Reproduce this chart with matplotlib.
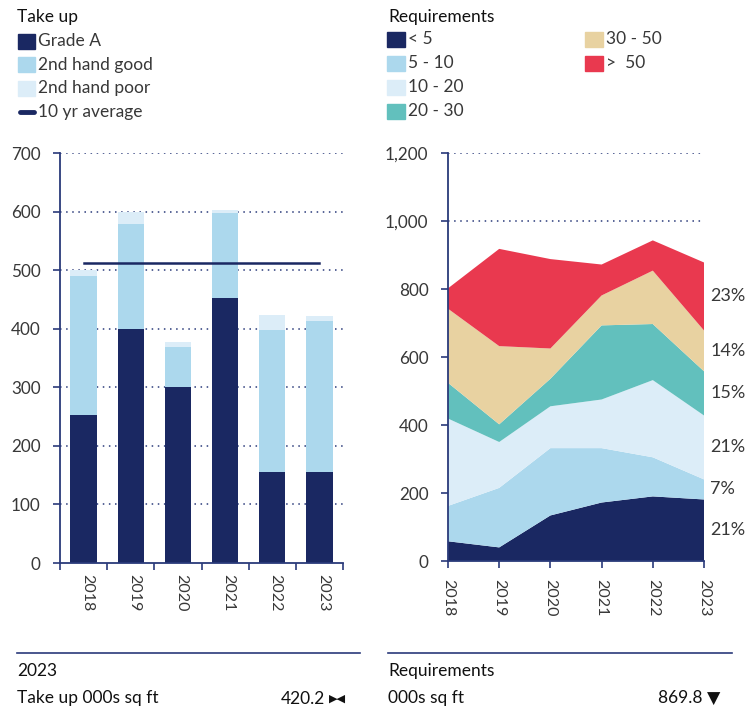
import matplotlib.pyplot as plt
from matplotlib.patches import Rectangle
from matplotlib.lines import Line2D
import numpy as np

# colours
NAVY = '#1a2862'
LIGHT_BLUE = '#acd8ed'
PALE_BLUE = '#dcedf8'
TEAL = '#62c0bd'
BEIGE = '#e8d2a1'
RED = '#e9394f'
TEXT = '#383838'
GRID = '#2a3a7a'

# take up data (000s sq ft)
years = ['2018', '2019', '2020', '2021', '2022', '2023']
grade_a = [253, 400, 300, 453, 155, 155]
second_good = [237, 178, 68, 145, 243, 258]
second_poor = [10, 22, 10, 4, 26, 8]
ten_yr_average = 512

# requirements data by size band (000s sq ft)
req_labels = ['< 5', '5 - 10', '10 - 20', '20 - 30', '30 - 50', '>  50']
req_lt5 = [58, 40, 134, 172, 190, 181]
req_5_10 = [104, 175, 198, 160, 115, 59]
req_10_20 = [257, 135, 123, 143, 227, 188]
req_20_30 = [105, 52, 81, 218, 165, 130]
req_30_50 = [218, 230, 89, 88, 157, 120]
req_gt50 = [60, 286, 263, 91, 89, 200]
req_share = ['21%', '7%', '21%', '15%', '14%', '23%']

W, H = 747, 709
plt.rcParams['font.family'] = ['Lato', 'DejaVu Sans']

fig = plt.figure(figsize=(W / 100, H / 100), dpi=100)


def fx(px):
    return px / W


def fy(py):
    return 1 - py / H


def style_axis(ax):
    for side in ['top', 'right']:
        ax.spines[side].set_visible(False)
    for side in ['left', 'bottom']:
        ax.spines[side].set_color(GRID)
        ax.spines[side].set_linewidth(1.3)
    ax.tick_params(axis='y', direction='out', length=5, width=1.2, color=GRID,
                   labelsize=12.3, labelcolor=TEXT, pad=9)
    ax.tick_params(axis='x', which='both', direction='out', width=1.2, color=GRID,
                   labelsize=11.5, labelcolor=TEXT)


# ---- left: take up bars
ax1 = fig.add_axes([fx(60), fy(563), fx(343) - fx(60), fy(153) - fy(563)])
x = np.arange(len(years))
for v in range(100, 701, 100):
    ax1.axhline(v, color=GRID, lw=1.1, ls=(0, (1, 3)), zorder=0)
bottom2 = np.array(grade_a)
bottom3 = bottom2 + np.array(second_good)
ax1.bar(x, grade_a, width=0.56, color=NAVY, zorder=2)
ax1.bar(x, second_good, width=0.56, bottom=bottom2, color=LIGHT_BLUE, zorder=2)
ax1.bar(x, second_poor, width=0.56, bottom=bottom3, color=PALE_BLUE, zorder=2)
ax1.plot([x[0], x[-1]], [ten_yr_average] * 2, color=NAVY, lw=1.8, zorder=3)
ax1.set_xlim(-0.5, 5.5)
ax1.set_ylim(0, 700)
ax1.set_yticks(range(0, 701, 100))
ax1.set_xticks(np.arange(-0.5, 6, 1))
ax1.set_xticklabels([])
ax1.set_xticks(x + 0.07, minor=True)
ax1.set_xticklabels(years, minor=True, rotation=270)
ax1.tick_params(axis='x', which='major', length=5)
ax1.tick_params(axis='x', which='minor', length=0, pad=8)
style_axis(ax1)

# ---- right: requirements stacked area
ax2 = fig.add_axes([fx(448), fy(561), fx(704) - fx(448), fy(153) - fy(561)])
for v in [1000, 1200]:
    ax2.plot([0, 4.95], [v, v], color=GRID, lw=1.1, ls=(0, (1, 3)), zorder=0)
layers = [req_lt5, req_5_10, req_10_20, req_20_30, req_30_50, req_gt50]
layer_colors = [NAVY, LIGHT_BLUE, PALE_BLUE, TEAL, BEIGE, RED]
ax2.stackplot(x, layers, colors=layer_colors, zorder=2, lw=0)
ax2.set_xlim(0, 5)
ax2.set_ylim(0, 1200)
ax2.set_yticks(range(0, 1201, 200))
ax2.set_yticklabels([f'{v:,}' for v in range(0, 1201, 200)])
ax2.set_xticks(x)
ax2.set_xticklabels(years, rotation=270)
ax2.tick_params(axis='x', length=5, pad=8)
style_axis(ax2)

tops = np.cumsum(np.array(layers), axis=0)[:, -1]
bots = tops - np.array(layers)[:, -1]
for lab, lo, hi in zip(req_share, bots, tops):
    ax2.text(5.12, (lo + hi) / 2, lab, fontsize=13, color=TEXT, va='center',
             ha='left', clip_on=False)

# ---- legends
fig.text(fx(17), fy(17), 'Take up', fontsize=12.5, color='#111111', va='center')
take_items = [('Grade A', NAVY, 'box'), ('2nd hand good', LIGHT_BLUE, 'box'),
              ('2nd hand poor', PALE_BLUE, 'box'), ('10 yr average', NAVY, 'line')]
for i, (lab, col, kind) in enumerate(take_items):
    yc = 41 + i * 23.7
    if kind == 'box':
        fig.patches.append(Rectangle((fx(18), fy(yc + 7.5)), fx(17), fy(0) - fy(15),
                                     transform=fig.transFigure, color=col))
    else:
        fig.lines.append(Line2D([fx(19.5), fx(33.5)], [fy(yc), fy(yc)], color=col, lw=3.5,
                                solid_capstyle='round', transform=fig.transFigure))
    fig.text(fx(38), fy(yc), lab, fontsize=12.5, color=TEXT, va='center')

fig.text(fx(388), fy(17), 'Requirements', fontsize=12.5, color='#111111', va='center')
for i, (lab, col) in enumerate(zip(req_labels, layer_colors)):
    col_x = 387 if i < 4 else 585
    yc = 39 + (i % 4) * 24
    fig.patches.append(Rectangle((fx(col_x), fy(yc + 7.5)), fx(18), fy(0) - fy(15),
                                 transform=fig.transFigure, color=col))
    fig.text(fx(col_x + 21), fy(yc), lab, fontsize=12.5, color=TEXT, va='center')

# ---- footer
for x0, x1 in [(17, 360), (388, 732)]:
    fig.lines.append(Line2D([fx(x0), fx(x1)], [fy(653), fy(653)], color=GRID, lw=1.2,
                            transform=fig.transFigure))
fig.text(fx(17), fy(671), '2023', fontsize=12.5, color='#111111', va='center')
fig.text(fx(17), fy(698), 'Take up 000s sq ft', fontsize=12.5, color='#111111', va='center')
fig.text(fx(325), fy(699), '420.2', fontsize=12.5, color='#111111', va='center', ha='right')
fig.text(fx(346), fy(698.5), '\u25b6\u25c0', fontsize=8, color='#111111', va='center',
         ha='right', family=['DejaVu Sans'])
fig.text(fx(388), fy(671), 'Requirements', fontsize=12.5, color='#111111', va='center')
fig.text(fx(388), fy(698), '000s sq ft', fontsize=12.5, color='#111111', va='center')
fig.text(fx(720), fy(698), '869.8 \u25bc', fontsize=12.5, color='#111111', va='center',
         ha='right', family=['Lato', 'DejaVu Sans'])

fig.savefig('out.png', dpi=100)
